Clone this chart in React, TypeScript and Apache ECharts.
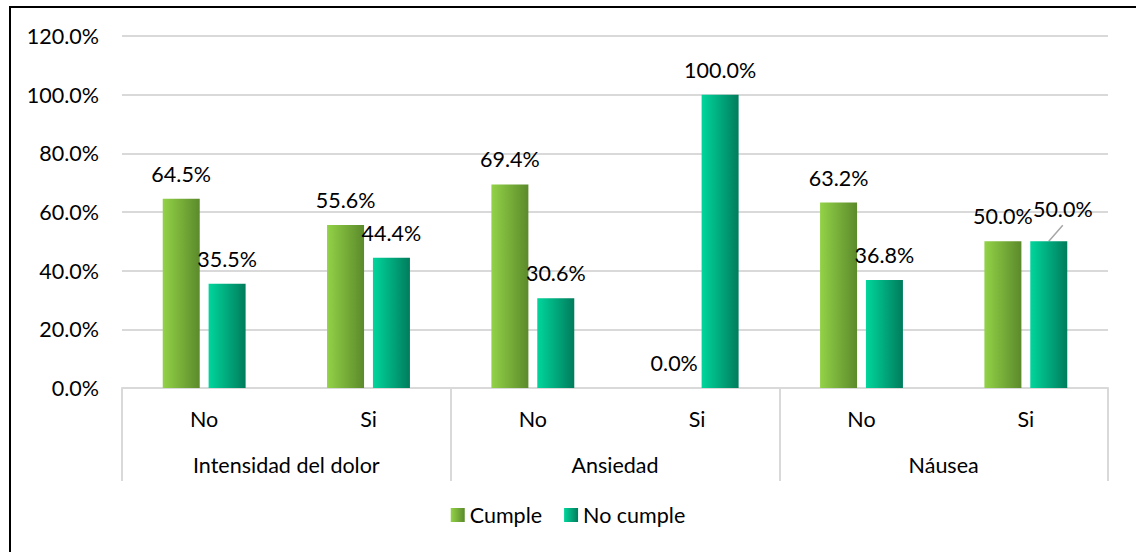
import React, { useEffect, useRef } from "react";
import * as echarts from "echarts";

const subCategories = ["No", "Si", "No", "Si", "No", "Si"];
const groupCategories = ["Intensidad del dolor", "Ansiedad", "Náusea"];
const cumpleValues = [64.5, 55.6, 69.4, 0.0, 63.2, 50.0];
const noCumpleValues = [35.5, 44.4, 30.6, 100.0, 36.8, 50.0];
const yTicks = { min: 0, max: 120, interval: 20 };

const FONT = "Lato";
const FS = 21.5;

const gradCumple = new echarts.graphic.LinearGradient(0, 0, 1, 0, [
  { offset: 0, color: "#93d247" },
  { offset: 1, color: "#5b8a2b" },
]);
const gradNoCumple = new echarts.graphic.LinearGradient(0, 0, 1, 0, [
  { offset: 0, color: "#00d69c" },
  { offset: 1, color: "#007c5c" },
]);

const fmt = (v: number) => `${v.toFixed(1)}%`;

export default function App() {
  const ref = useRef<HTMLDivElement>(null);
  useEffect(() => {
    if (!ref.current) return;
    const chart = echarts.init(ref.current, null, { renderer: "svg" });
    const labelBase = {
      show: true,
      position: "top" as const,
      distance: 14,
      fontFamily: FONT,
      fontSize: FS,
      color: "#000",
      formatter: (p: any) => fmt(p.value),
    };
    const borderRect = {
      type: "rect",
      shape: { x: 10, y: 7, width: 1150, height: 570 },
      style: { fill: "none", stroke: "#000", lineWidth: 2 },
      silent: true,
    };
    const BAR_W = 37;
    const BAR_GAP = 0.24;
    chart.setOption({
      animation: false,
      textStyle: { fontFamily: FONT },
      graphic: [borderRect],
      grid: { left: 122, right: 28, top: 36, bottom: 164, containLabel: false },
      legend: {
        bottom: 21,
        left: "center",
        itemWidth: 14,
        itemHeight: 14,
        itemGap: 22,
        icon: "rect",
        textStyle: { fontFamily: FONT, fontSize: FS, color: "#000" },
        data: ["Cumple", "No cumple"],
      },
      xAxis: [
        {
          type: "category",
          data: subCategories,
          axisLine: { show: true, lineStyle: { color: "#d9d9d9", width: 2 } },
          axisTick: { show: false },
          axisLabel: { fontFamily: FONT, fontSize: FS, color: "#000", margin: 20 },
        },
        {
          type: "category",
          data: groupCategories,
          position: "bottom",
          axisLine: { show: false },
          axisTick: { show: true, length: 93, lineStyle: { color: "#d9d9d9", width: 2 } },
          axisLabel: { fontFamily: FONT, fontSize: FS, color: "#000", margin: 66 },
        },
      ],
      yAxis: {
        type: "value",
        min: yTicks.min,
        max: yTicks.max,
        interval: yTicks.interval,
        axisLine: { show: false },
        axisTick: { show: false },
        splitLine: { lineStyle: { color: "#d9d9d9", width: 2 } },
        axisLabel: {
          fontFamily: FONT,
          fontSize: FS,
          color: "#000",
          margin: 23,
          formatter: (v: number) => fmt(v),
        },
      },
      series: [
        {
          name: "Cumple",
          type: "bar",
          xAxisIndex: 0,
          barWidth: BAR_W,
          barGap: `${BAR_GAP * 100}%`,
          itemStyle: { color: gradCumple },
          label: labelBase,
          data: cumpleValues,
        },
        {
          name: "No cumple",
          type: "bar",
          xAxisIndex: 0,
          barWidth: BAR_W,
          barGap: `${BAR_GAP * 100}%`,
          itemStyle: { color: gradNoCumple },
          label: labelBase,
          data: noCumpleValues.map((v, i) =>
            i === 5 ? { value: v, label: { offset: [14, -7] } } : v
          ),
        },
      ],
    });
    // leader line for the moved label (computed from the axes)
    const idx = 5;
    const p = chart.convertToPixel({ xAxisIndex: 0, yAxisIndex: 0 }, [idx, noCumpleValues[idx]]);
    if (p) {
      const barCx = p[0] + (BAR_W * (1 + BAR_GAP)) / 2;
      const topY = p[1];
      chart.setOption({
        graphic: [
          borderRect,
          {
            type: "line",
            shape: { x1: barCx, y1: topY, x2: barCx + 14, y2: topY - 16 },
            style: { stroke: "#a6a6a6", lineWidth: 1.5 },
            silent: true,
          },
        ],
      });
    }
    return () => chart.dispose();
  }, []);
  return (
    <div
      ref={ref}
      style={{ position: "fixed", left: 0, top: 0, width: 1136, height: 552, background: "#fff" }}
    />
  );
}
